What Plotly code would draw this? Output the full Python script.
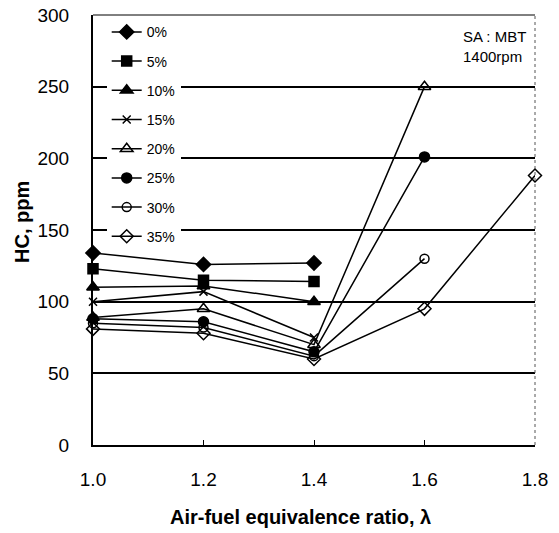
import plotly.graph_objects as go

lam = [1.0, 1.2, 1.4, 1.6, 1.8]
series_names = ["0%", "5%", "10%", "15%", "20%", "25%", "30%", "35%"]
hc_0 = [134, 126, 127]
hc_5 = [123, 115, 114]
hc_10 = [110, 111, 100]
hc_15 = [100, 107, 75]
hc_20 = [89, 95, 70, 250]
hc_25 = [88, 86, 65, 201]
hc_30 = [85, 82, 62, 130]
hc_35 = [81, 78, 60, 95, 188]
all_vals = [hc_0, hc_5, hc_10, hc_15, hc_20, hc_25, hc_30, hc_35]
symbols = ["diamond", "square", "triangle-up", "x-thin", "triangle-up-open",
           "circle", "circle-open", "diamond-open"]
sizes = [11, 10, 11, 8, 11, 10, 9, 10]

fig = go.Figure()
for i, (name, vals) in enumerate(zip(series_names, all_vals)):
    fig.add_trace(go.Scatter(
        x=lam[:len(vals)], y=vals, name=name, mode="lines+markers",
        legendgroup=name, cliponaxis=False,
        line=dict(color="black", width=1.5),
        marker=dict(symbol=symbols[i], size=sizes[i], color="black",
                    line=dict(color="black", width=1.5)),
    ))

fnt = "Arial, Liberation Sans"

fig.update_layout(
    width=559, height=533,
    margin=dict(l=93, r=24, t=15, b=88, autoexpand=False),
    plot_bgcolor="white", paper_bgcolor="white",
    font=dict(family=fnt, color="black"),
    showlegend=True,
    legend=dict(x=0.031, y=0.997, xanchor="left", yanchor="top",
                bgcolor="white", borderwidth=0,
                font=dict(size=14, family=fnt),
                tracegroupgap=8, itemwidth=30),
    xaxis=dict(range=[1.0, 1.8], tickvals=[1.0, 1.2, 1.4, 1.6, 1.8],
               ticktext=["1.0", "1.2", "1.4", "1.6", "1.8"],
               showgrid=False, zeroline=False, showline=True, automargin=False,
               linecolor="black", linewidth=2, ticks="inside", ticklen=5,
               tickcolor="black", tickfont=dict(size=19, family=fnt),
               ticklabelstandoff=16),
    yaxis=dict(range=[0, 300], tickvals=[0, 50, 100, 150, 200, 250, 300],
               showgrid=True, gridcolor="black", gridwidth=1.5, automargin=False,
               zeroline=False, showline=True, linecolor="black", linewidth=2,
               ticks="inside", ticklen=9, tickcolor="black",
               tickfont=dict(size=19, family=fnt),
               ticklabelstandoff=18),
)

fig.add_shape(type="line", xref="paper", yref="paper", x0=0, x1=1, y0=1, y1=1,
              line=dict(color="black", width=1))
fig.add_shape(type="line", xref="paper", yref="paper", x0=1, x1=1, y0=0, y1=1,
              line=dict(color="#555", width=1, dash="dot"))

fig.add_annotation(xref="paper", yref="paper", x=0.985, y=0.975,
                   xanchor="right", yanchor="top", align="left", showarrow=False,
                   text="SA : MBT<br>1400rpm",
                   font=dict(size=15, family=fnt))

fig.add_annotation(xref="paper", yref="paper", x=(300 - 93) / 442, y=-(517 - 445) / 430,
                   xanchor="center", yanchor="middle", showarrow=False,
                   text="<b>Air-fuel equivalence ratio, λ</b>",
                   font=dict(size=20, family=fnt))
fig.add_annotation(xref="paper", yref="paper", x=-(93 - 22) / 442, y=(445 - 222) / 430,
                   xanchor="center", yanchor="middle", showarrow=False,
                   textangle=-90,
                   text="<b>HC, ppm</b>",
                   font=dict(size=20, family=fnt))

fig.write_html("out.html")
